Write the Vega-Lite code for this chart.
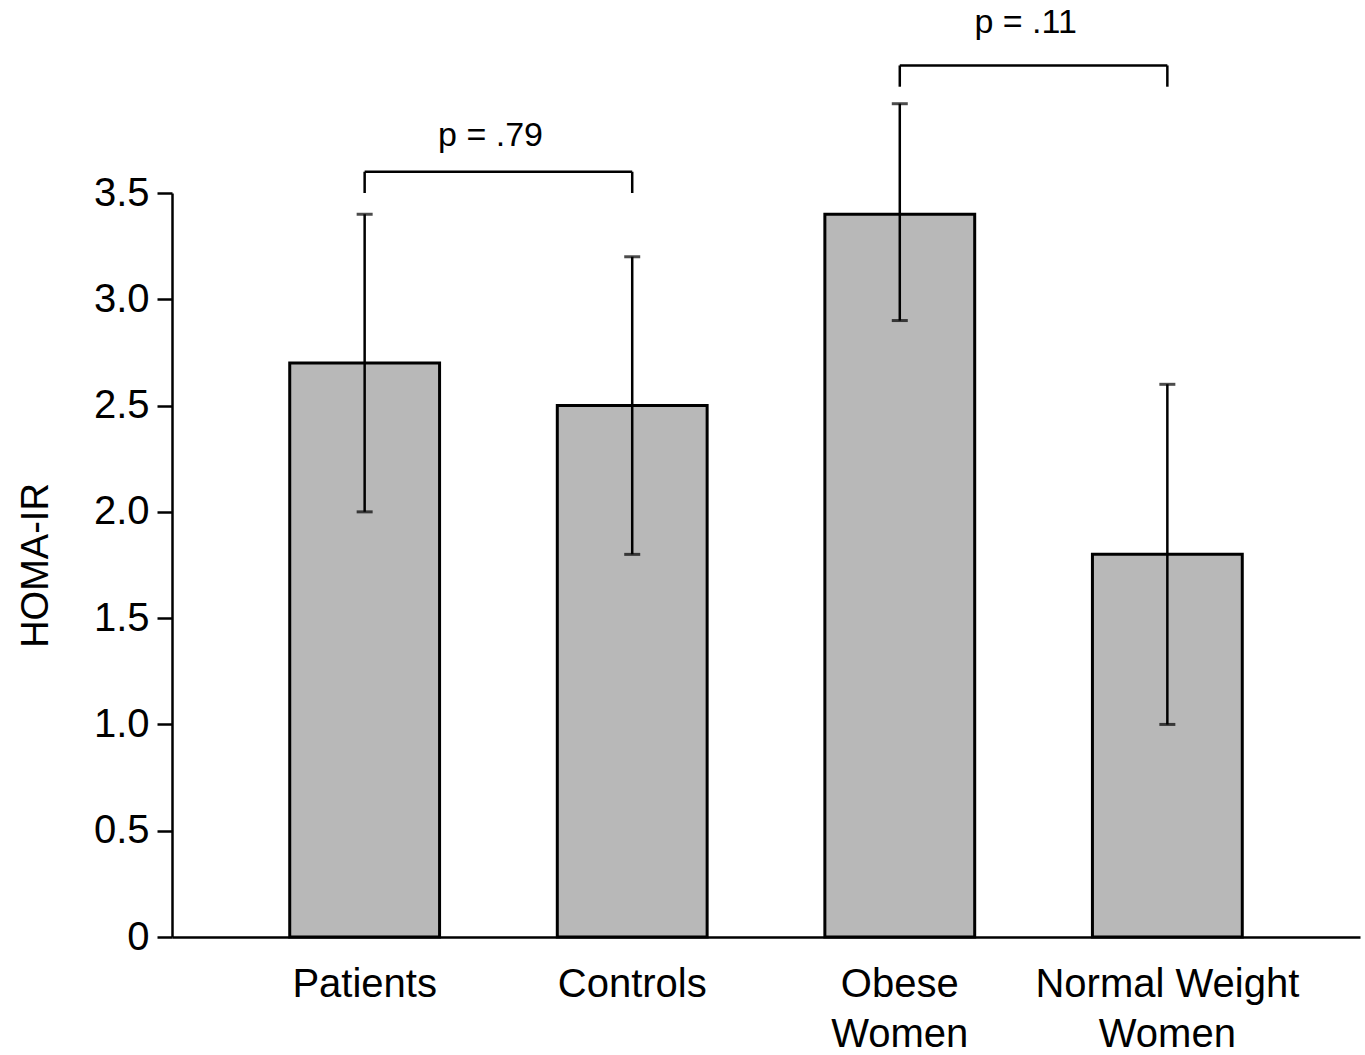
{
  "$schema": "https://vega.github.io/schema/vega-lite/v6.json",
  "width": 1188,
  "height": 744,
  "autosize": "none",
  "padding": {"left": 172, "top": 193, "right": 5, "bottom": 118},
  "background": "white",
  "config": {
    "view": {"stroke": null},
    "font": "Liberation Sans",
    "axis": {"grid": false, "domainColor": "black", "domainWidth": 2.5, "labelColor": "black", "titleColor": "black"}
  },
  "datasets": {
    "groups": [
      {"group": "Patients", "homa": 2.7, "lo": 2.0, "hi": 3.4},
      {"group": "Controls", "homa": 2.5, "lo": 1.8, "hi": 3.2},
      {"group": "Obese|Women", "homa": 3.4, "lo": 2.9, "hi": 3.92},
      {"group": "Normal Weight|Women", "homa": 1.8, "lo": 1.0, "hi": 2.6}
    ],
    "brackets": [
      {"left": "Patients", "right": "Controls", "top": 3.6, "bottom": 3.5, "label": "p = .79", "labelY": 3.77},
      {"left": "Obese|Women", "right": "Normal Weight|Women", "top": 4.1, "bottom": 4.0, "label": "p = .11", "labelY": 4.3}
    ]
  },
  "encoding": {
    "x": {
      "field": "group",
      "type": "nominal",
      "sort": null,
      "scale": {"paddingInner": 0.44, "paddingOuter": 0.44},
      "axis": {
        "title": null,
        "ticks": false,
        "labelAngle": 0,
        "labelFontSize": 40,
        "labelLineHeight": 50,
        "labelPadding": 27,
        "labelLimit": 0,
        "labelExpr": "split(datum.label, '|')"
      }
    }
  },
  "layer": [
    {
      "data": {"name": "groups"},
      "mark": {"type": "bar", "fill": "#b8b8b8", "stroke": "black", "strokeWidth": 3},
      "encoding": {
        "y": {
          "field": "homa",
          "type": "quantitative",
          "scale": {"domain": [0, 3.5], "nice": false},
          "axis": {
            "title": "HOMA-IR",
            "titleFontSize": 38,
            "titleFontWeight": "normal",
            "titlePadding": 38,
            "values": [0, 0.5, 1, 1.5, 2, 2.5, 3, 3.5],
            "labelExpr": "datum.value == 0 ? '0' : format(datum.value, '.1f')",
            "labelFontSize": 40,
            "labelPadding": 8,
            "tickSize": 15,
            "tickWidth": 2.5,
            "tickColor": "black"
          }
        }
      }
    },
    {
      "data": {"name": "groups"},
      "mark": {"type": "rule", "color": "black", "strokeWidth": 2.5},
      "encoding": {"y": {"field": "lo", "type": "quantitative"}, "y2": {"field": "hi"}}
    },
    {
      "data": {"name": "groups"},
      "mark": {"type": "tick", "color": "black", "size": 16, "thickness": 3},
      "encoding": {"y": {"field": "lo", "type": "quantitative"}}
    },
    {
      "data": {"name": "groups"},
      "mark": {"type": "tick", "color": "black", "size": 16, "thickness": 3},
      "encoding": {"y": {"field": "hi", "type": "quantitative"}}
    },
    {
      "data": {"name": "brackets"},
      "mark": {"type": "rule", "color": "black", "strokeWidth": 2.5},
      "encoding": {
        "x": {"field": "left", "type": "nominal"},
        "x2": {"field": "right"},
        "y": {"field": "top", "type": "quantitative"}
      }
    },
    {
      "data": {"name": "brackets"},
      "mark": {"type": "rule", "color": "black", "strokeWidth": 2.5},
      "encoding": {
        "x": {"field": "left", "type": "nominal"},
        "y": {"field": "bottom", "type": "quantitative"},
        "y2": {"field": "top"}
      }
    },
    {
      "data": {"name": "brackets"},
      "mark": {"type": "rule", "color": "black", "strokeWidth": 2.5},
      "encoding": {
        "x": {"field": "right", "type": "nominal"},
        "y": {"field": "bottom", "type": "quantitative"},
        "y2": {"field": "top"}
      }
    },
    {
      "data": {"name": "brackets"},
      "mark": {"type": "text", "fontSize": 34, "color": "black", "baseline": "middle", "align": "center"},
      "encoding": {
        "x": {"field": "left", "type": "nominal", "bandPosition": 1.34},
        "y": {"field": "labelY", "type": "quantitative"},
        "text": {"field": "label"}
      }
    }
  ]
}
